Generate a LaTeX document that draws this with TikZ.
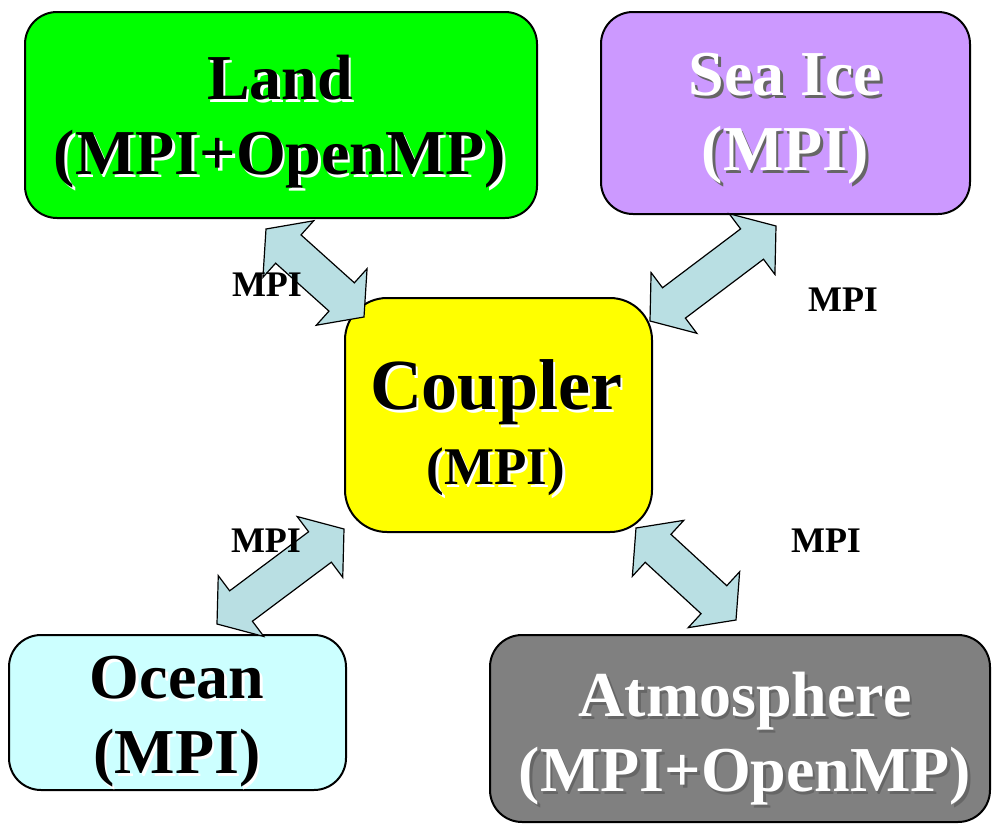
\documentclass[tikz,border=0pt]{standalone}
\usepackage{fontspec}
\setmainfont{Liberation Serif}
\usetikzlibrary{calc}

\definecolor{landgreen}{HTML}{00FF00}
\definecolor{icepurple}{HTML}{CC99FF}
\definecolor{coupleryellow}{HTML}{FFFF00}
\definecolor{oceancyan}{HTML}{CCFFFF}
\definecolor{atmosgray}{HTML}{808080}
\definecolor{linkblue}{HTML}{B9DFE3}

% text with a soft offset shadow underneath
\newcommand\shtext[2]{\rlap{\kern2.5pt\raisebox{-2.5pt}{\textcolor{#1}{#2}}}#2}

% double block arrow between two points
\newcommand\headlen{30pt}
\newcommand\headhalf{38pt}
\newcommand\shafthalf{19pt}
\newcommand\linkarrow[2]{%
  \draw[linkarrow] (#1)
    -- ($(#1)!\headlen!(#2)!\headhalf!90:(#2)$)
    -- ($(#1)!\headlen!(#2)!\shafthalf!90:(#2)$)
    -- ($(#2)!\headlen!(#1)!\shafthalf!-90:(#1)$)
    -- ($(#2)!\headlen!(#1)!\headhalf!-90:(#1)$)
    -- (#2)
    -- ($(#2)!\headlen!(#1)!\headhalf!90:(#1)$)
    -- ($(#2)!\headlen!(#1)!\shafthalf!90:(#1)$)
    -- ($(#1)!\headlen!(#2)!\shafthalf!-90:(#2)$)
    -- ($(#1)!\headlen!(#2)!\headhalf!-90:(#2)$)
    -- cycle;}

\tikzset{
  modbox/.style={draw, line width=2pt, rounded corners=32pt, inner sep=0pt},
  boxtext/.style={align=center, inner sep=0pt, font=\fontsize{64}{75}\selectfont\bfseries},
  linkarrow/.style={draw, fill=linkblue, line width=1.2pt, line join=miter},
  linklabel/.style={inner sep=0pt, font=\fontsize{36}{40}\selectfont\bfseries}
}

\begin{document}
\begin{tikzpicture}[x=1pt, y=-1pt]
  \fill[white] (0,0) rectangle (994,825);
  \useasboundingbox (0,0) rectangle (994,825);

  % component boxes
  \node[modbox, fill=landgreen, minimum width=512pt, minimum height=206pt] (land) at (281,115) {};
  \node[modbox, fill=icepurple, minimum width=369pt, minimum height=202pt] (seaice) at (785.5,113) {};
  \node[modbox, fill=coupleryellow, rounded corners=42pt, minimum width=307pt, minimum height=234pt] (coupler) at (498.5,415) {};
  \node[modbox, fill=oceancyan, minimum width=337pt, minimum height=155pt] (ocean) at (177.5,712.5) {};
  \node[modbox, fill=atmosgray, minimum width=500pt, minimum height=187pt] (atmos) at (740,728.5) {};

  \node[boxtext] (land-text) at (280,123) {\shtext{white}{Land}\\\shtext{white}{(MPI+OpenMP)}};
  \node[boxtext, text=white] (seaice-text) at (785.5,120) {\shtext{black!60}{Sea Ice}\\\shtext{black!60}{(MPI)}};
  \node[boxtext, font=\fontsize{72}{75}\selectfont\bfseries] (coupler-text) at (496,429)
    {\shtext{white}{Coupler}\\{\fontsize{53}{75}\selectfont\shtext{white}{(MPI)}}};
  \node[boxtext] (ocean-text) at (177,723) {\shtext{white}{Ocean}\\\shtext{white}{(MPI)}};
  \node[boxtext, text=white] (atmos-text) at (745,740) {\shtext{black!60}{Atmosphere}\\\shtext{black!60}{(MPI+OpenMP)}};

  % arrow ends
  \coordinate (land-end) at ($(land.south)+(-15,10)$);
  \coordinate (cpl-nw) at ($(coupler.north west)+(20,20)$);
  \coordinate (seaice-end) at ($(seaice.south)+(-9.5,11)$);
  \coordinate (cpl-ne) at ($(coupler.north east)+(-3,24)$);
  \coordinate (ocean-end) at ($(ocean.north)+(39.5,-10)$);
  \coordinate (cpl-sw) at ($(coupler.south west)+(0,-4)$);
  \coordinate (atmos-end) at ($(atmos.north)+(-4,-14)$);
  \coordinate (cpl-se) at ($(coupler.south east)+(-17,-5)$);

  \linkarrow{land-end}{cpl-nw}
  \linkarrow{seaice-end}{cpl-ne}
  \linkarrow{ocean-end}{cpl-sw}
  \linkarrow{atmos-end}{cpl-se}

  \node[linklabel] (land-mpi) at (267,285) {MPI};
  \node[linklabel] (seaice-mpi) at (843,300) {MPI};
  \node[linklabel] (ocean-mpi) at (266,541) {MPI};
  \node[linklabel] (atmos-mpi) at (826,541) {MPI};
\end{tikzpicture}
\end{document}
